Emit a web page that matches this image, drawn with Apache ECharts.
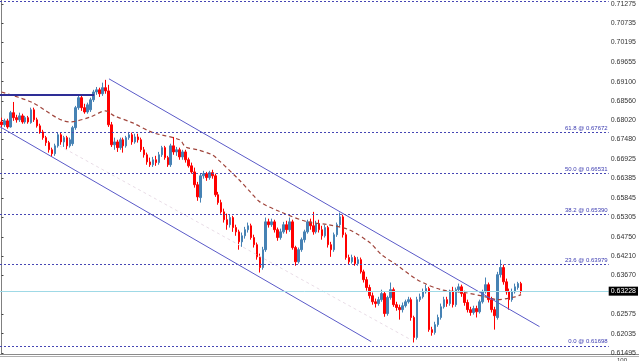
<!DOCTYPE html>
<html><head><meta charset="utf-8">
<script src="https://cdn.jsdelivr.net/npm/echarts@6/dist/echarts.min.js"></script>
<style>html,body{margin:0;padding:0;background:#fff}#c{width:639px;height:361px}</style>
</head><body><div id="c"></div>
<script>
const candleOpen = [
0.6797,0.6789,0.6800,0.6783,0.6823,0.6809,0.6803,0.6814,0.6797,0.6809,
0.6795,0.6831,0.6803,0.6786,0.6769,0.6753,0.6739,0.6719,0.6708,0.6730,
0.6761,0.6741,0.6753,0.6730,0.6736,0.6781,0.6837,0.6865,0.6837,0.6825,
0.6831,0.6859,0.6881,0.6887,0.6876,0.6893,0.6884,0.6789,0.6733,0.6741,
0.6725,0.6747,0.6730,0.6753,0.6761,0.6741,0.6755,0.6747,0.6719,0.6705,
0.6685,0.6677,0.6691,0.6683,0.6705,0.6725,0.6697,0.6677,0.6730,0.6713,
0.6719,0.6699,0.6713,0.6691,0.6674,0.6657,0.6621,0.6585,0.6646,0.6652,
0.6641,0.6655,0.6646,0.6593,0.6571,0.6545,0.6523,0.6509,0.6529,0.6501,
0.6489,0.6461,0.6478,0.6495,0.6506,0.6473,0.6453,0.6419,0.6389,0.6439,
0.6517,0.6509,0.6517,0.6495,0.6473,0.6489,0.6509,0.6495,0.6517,0.6445,
0.6405,0.6439,0.6467,0.6489,0.6517,0.6506,0.6489,0.6512,0.6495,0.6478,
0.6501,0.6453,0.6439,0.6481,0.6509,0.6531,0.6481,0.6417,0.6405,0.6417,
0.6400,0.6411,0.6377,0.6355,0.6333,0.6310,0.6293,0.6288,0.6299,0.6316,
0.6260,0.6305,0.6327,0.6285,0.6277,0.6271,0.6282,0.6293,0.6299,0.6249,
0.6193,0.6299,0.6307,0.6321,0.6330,0.6215,0.6207,0.6229,0.6249,0.6279,
0.6299,0.6288,0.6321,0.6285,0.6327,0.6335,0.6316,0.6291,0.6271,0.6263,
0.6274,0.6265,0.6293,0.6321,0.6341,0.6299,0.6271,0.6249,0.6369,0.6389,
0.6349,0.6321,0.6299,0.6321,0.6333,0.6344
];
const candleClose = [
0.6789,0.6800,0.6783,0.6823,0.6809,0.6803,0.6814,0.6797,0.6809,0.6797,
0.6831,0.6803,0.6786,0.6769,0.6753,0.6739,0.6719,0.6708,0.6730,0.6761,
0.6741,0.6753,0.6730,0.6747,0.6781,0.6837,0.6865,0.6837,0.6825,0.6845,
0.6859,0.6881,0.6887,0.6876,0.6893,0.6884,0.6789,0.6733,0.6741,0.6725,
0.6747,0.6730,0.6753,0.6761,0.6741,0.6755,0.6747,0.6719,0.6705,0.6685,
0.6677,0.6691,0.6683,0.6705,0.6725,0.6697,0.6677,0.6730,0.6713,0.6719,
0.6699,0.6713,0.6691,0.6674,0.6657,0.6621,0.6587,0.6646,0.6652,0.6641,
0.6655,0.6646,0.6593,0.6571,0.6545,0.6523,0.6509,0.6529,0.6501,0.6489,
0.6461,0.6478,0.6495,0.6506,0.6473,0.6453,0.6419,0.6389,0.6439,0.6517,
0.6509,0.6517,0.6495,0.6473,0.6489,0.6509,0.6495,0.6517,0.6445,0.6405,
0.6439,0.6467,0.6489,0.6517,0.6506,0.6489,0.6512,0.6495,0.6478,0.6501,
0.6453,0.6439,0.6481,0.6509,0.6531,0.6481,0.6417,0.6405,0.6417,0.6400,
0.6411,0.6377,0.6355,0.6333,0.6310,0.6293,0.6288,0.6299,0.6316,0.6260,
0.6305,0.6327,0.6285,0.6277,0.6271,0.6282,0.6293,0.6299,0.6249,0.6193,
0.6299,0.6307,0.6321,0.6330,0.6215,0.6207,0.6229,0.6249,0.6279,0.6299,
0.6288,0.6321,0.6285,0.6327,0.6335,0.6316,0.6291,0.6271,0.6263,0.6274,
0.6265,0.6293,0.6321,0.6341,0.6299,0.6271,0.6254,0.6369,0.6389,0.6349,
0.6321,0.6299,0.6321,0.6335,0.6344,0.63228
];
const candleLow = [
0.6783,0.6783,0.6778,0.6781,0.6800,0.6795,0.6797,0.6792,0.6792,0.6792,
0.6792,0.6797,0.6781,0.6764,0.6747,0.6730,0.6711,0.6699,0.6702,0.6725,
0.6733,0.6727,0.6719,0.6725,0.6730,0.6775,0.6831,0.6828,0.6820,0.6820,
0.6825,0.6853,0.6873,0.6867,0.6870,0.6876,0.6783,0.6727,0.6719,0.6713,
0.6719,0.6711,0.6725,0.6747,0.6733,0.6736,0.6739,0.6713,0.6697,0.6677,
0.6671,0.6671,0.6674,0.6677,0.6699,0.6691,0.6671,0.6671,0.6705,0.6702,
0.6691,0.6691,0.6683,0.6669,0.6652,0.6613,0.6576,0.6571,0.6638,0.6632,
0.6635,0.6638,0.6587,0.6565,0.6540,0.6515,0.6495,0.6501,0.6489,0.6478,
0.6439,0.6447,0.6470,0.6487,0.6467,0.6445,0.6411,0.6375,0.6383,0.6433,
0.6501,0.6503,0.6487,0.6464,0.6467,0.6484,0.6484,0.6489,0.6439,0.6394,
0.6400,0.6433,0.6459,0.6484,0.6495,0.6481,0.6484,0.6487,0.6467,0.6473,
0.6445,0.6419,0.6433,0.6475,0.6503,0.6473,0.6411,0.6397,0.6400,0.6394,
0.6394,0.6372,0.6347,0.6324,0.6302,0.6285,0.6277,0.6282,0.6293,0.6251,
0.6254,0.6299,0.6279,0.6268,0.6243,0.6263,0.6277,0.6288,0.6240,0.6179,
0.6187,0.6293,0.6302,0.6316,0.6209,0.6198,0.6201,0.6223,0.6243,0.6274,
0.6279,0.6282,0.6277,0.6279,0.6319,0.6307,0.6282,0.6263,0.6254,0.6257,
0.6249,0.6260,0.6288,0.6316,0.6291,0.6263,0.6215,0.6243,0.6361,0.6341,
0.6313,0.6271,0.6293,0.6316,0.6327,0.6316
];
const candleHigh = [
0.6809,0.6806,0.6806,0.6828,0.6853,0.6817,0.6823,0.6820,0.6814,0.6814,
0.6837,0.6837,0.6809,0.6792,0.6775,0.6758,0.6744,0.6725,0.6736,0.6767,
0.6767,0.6758,0.6758,0.6753,0.6786,0.6842,0.6873,0.6870,0.6848,0.6851,
0.6865,0.6887,0.6895,0.6893,0.6907,0.6915,0.6901,0.6797,0.6753,0.6747,
0.6753,0.6753,0.6758,0.6769,0.6767,0.6764,0.6764,0.6753,0.6727,0.6711,
0.6697,0.6699,0.6702,0.6713,0.6730,0.6730,0.6702,0.6736,0.6755,0.6727,
0.6725,0.6719,0.6719,0.6697,0.6683,0.6669,0.6629,0.6652,0.6660,0.6657,
0.6660,0.6663,0.6652,0.6601,0.6579,0.6554,0.6540,0.6537,0.6534,0.6509,
0.6495,0.6487,0.6503,0.6515,0.6512,0.6481,0.6459,0.6428,0.6447,0.6529,
0.6526,0.6526,0.6523,0.6501,0.6498,0.6517,0.6520,0.6529,0.6523,0.6450,
0.6445,0.6473,0.6495,0.6523,0.6526,0.6545,0.6520,0.6523,0.6506,0.6509,
0.6506,0.6461,0.6487,0.6515,0.6543,0.6537,0.6487,0.6425,0.6425,0.6422,
0.6419,0.6417,0.6383,0.6363,0.6341,0.6319,0.6302,0.6307,0.6327,0.6321,
0.6310,0.6347,0.6333,0.6293,0.6285,0.6291,0.6299,0.6307,0.6305,0.6254,
0.6307,0.6316,0.6330,0.6341,0.6335,0.6223,0.6237,0.6257,0.6288,0.6307,
0.6307,0.6327,0.6335,0.6333,0.6344,0.6341,0.6324,0.6299,0.6279,0.6282,
0.6282,0.6299,0.6327,0.6361,0.6347,0.6307,0.6279,0.6377,0.6411,0.6397,
0.6358,0.6330,0.6330,0.6344,0.6349,0.6349
];
const emptySlots = 29;
const maPoints = [[0,0.6881],[10,0.6853],[23,0.6797],[30,0.6811],[35,0.6828],[38,0.6814],[44,0.6795],[51,0.6767],[60,0.6747],[62,0.6727],[66,0.6719],[71,0.6705],[73,0.6691],[80,0.6635],[84,0.6599],[87,0.6573],[94,0.6545],[103,0.6517],[110,0.6509],[117,0.6495],[124,0.6459],[128,0.6425],[133,0.6397],[140,0.6355],[148,0.6327],[156,0.6319],[163,0.6307],[167,0.6299],[173,0.6307],[175,0.6313]];
const upperChannel = [[36.2,0.69178],[181.2,0.62234]];
const lowerChannel = [[-0.5,0.67834],[124.5,0.61814]];
const innerLine = [[19.5,0.67302],[137.8,0.61870]];
const resistanceLine = [[-0.5,0.68727],[31.2,0.68727]];
const fibLevels = [100.0,61.8,50.0,38.2,23.6,0.0];
const fibPrices = [0.71365,0.67672,0.66531,0.65390,0.63979,0.61698];
const currentPrice = 0.63228;
const tickValues = [0.71275,0.70735,0.70195,0.69655,0.69100,0.68560,0.68020,0.67480,0.66925,0.66385,0.65845,0.65305,0.64750,0.64210,0.63670,0.62575,0.62035,0.61495];
const yMin = 0.61467, yMax = 0.71387;

const categories = [];
for (let i = 0; i < candleOpen.length + emptySlots; i++) categories.push('B' + (i + 1));
const candles = candleOpen.map((o, i) => [o, candleClose[i], candleLow[i], candleHigh[i]]);

const chart = echarts.init(document.getElementById('c'), null, {renderer: 'canvas'});
const FONT = 'Liberation Sans';
const fibMark = fibPrices.map((p, i) => ({
  yAxis: p,
  label: {show: fibLevels[i] !== 100, formatter: fibLevels[i].toFixed(1) + ' @ ' + p.toFixed(5)}
}));
const overlayLine = (data, color, width, type) => ({
  type: 'line', xAxisIndex: 1, data, symbol: 'none', silent: true, z: 4,
  lineStyle: {color, width, type}
});
chart.setOption({
  animation: false,
  grid: {left: 0, right: 25, top: 0, bottom: 7},
  xAxis: [
    {type: 'category', data: categories, show: false, boundaryGap: true},
    {type: 'value', min: -0.5, max: categories.length - 0.5, show: false}
  ],
  yAxis: {
    type: 'value', position: 'right', min: yMin, max: yMax,
    splitLine: {show: false},
    axisLine: {show: true, lineStyle: {color: '#808080', width: 1}},
    axisTick: {show: true, length: 2, customValues: tickValues, lineStyle: {color: '#444'}},
    axisLabel: {customValues: tickValues, formatter: v => v.toFixed(5), fontSize: 7, color: '#333', margin: 2, fontFamily: FONT}
  },
  series: [
    {
      type: 'line', xAxisIndex: 1, data: [], symbol: 'none', silent: true,
      markLine: {
        silent: true, symbol: ['none', 'none'], animation: false, precision: 5,
        lineStyle: {color: '#4646b4', width: 1, type: [2, 2]},
        label: {position: 'insideEndTop', fontSize: 6, color: '#3a3ab0', fontFamily: FONT, distance: [1, 1]},
        data: fibMark
      }
    },
    {
      type: 'line', xAxisIndex: 1, data: [], symbol: 'none', silent: true,
      markLine: {
        silent: true, symbol: ['none', 'none'], animation: false, precision: 5,
        lineStyle: {color: '#9fd9e6', width: 1, type: 'solid'},
        label: {position: 'end', formatter: currentPrice.toFixed(5), backgroundColor: '#000', color: '#fff', fontSize: 7, fontFamily: FONT, padding: [1, 2, 1, 2], distance: 0},
        data: [{yAxis: currentPrice}]
      }
    },
    {
      type: 'candlestick', xAxisIndex: 0, data: candles, barWidth: 2, z: 3,
      itemStyle: {color: '#4682b4', color0: '#ff0000', borderColor: '#4682b4', borderColor0: '#ff0000', borderWidth: 1}
    },
    Object.assign(overlayLine(maPoints, '#a0453c', 1.2, [4, 3]), {smooth: 0.3}),
    overlayLine(upperChannel, '#5a5ac8', 1, 'solid'),
    overlayLine(lowerChannel, '#5a5ac8', 1, 'solid'),
    overlayLine(innerLine, '#e8dce6', 1, [3, 3]),
    overlayLine(resistanceLine, '#2e2e96', 2, 'solid')
  ],
  graphic: [
    {type: 'rect', shape: {x: 0, y: 354, width: 639, height: 1}, style: {fill: '#8a8a8a'}, silent: true},
    {type: 'rect', shape: {x: 0, y: 356, width: 639, height: 1}, style: {fill: '#b0b0b0'}, silent: true},
    {type: 'text', x: 617, y: 357, style: {text: '100', fontSize: 6, fill: '#333', fontFamily: FONT}, silent: true}
  ]
});
</script>
</body></html>
